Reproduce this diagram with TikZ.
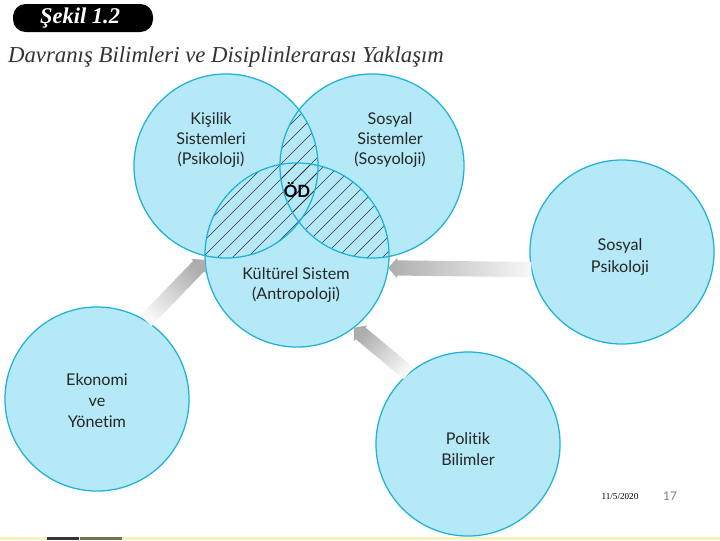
\documentclass[tikz,border=0pt]{standalone}
\usepackage{fontspec}
\setmainfont{Lato}[Ligatures={NoCommon,NoRare,NoDiscretionary}]
\newfontfamily\serifti{Liberation Serif}
\usetikzlibrary{calc}

\begin{document}
\begin{tikzpicture}[x=0.025cm, y=-0.025cm,
    disc/.style={circle, fill=disc_fill, minimum size=4.6cm, inner sep=0pt},
    rim/.style={draw=disc_edge, line width=0.9pt},
    hatch/.style={draw=black!80, line width=0.35pt},
    circtext/.style={align=center, text=black!85, font=\fontsize{11.5}{14.2}\selectfont}]
    \definecolor{disc_fill}{HTML}{B5E9F8}
    \definecolor{disc_edge}{HTML}{1FB2D9}
    \definecolor{foot_yellow}{HTML}{F4F2BE}
    \definecolor{foot_olive}{HTML}{6E7452}
    %\draw[help lines] (0,0) grid[step=20] (720,540);
    \useasboundingbox (0,0) rectangle (720,540);
    \path[fill=white] (0,0) rectangle (720,540);

    % title
    \path[fill=black, rounded corners=9] (13,4) rectangle (153,32);
    \node[text=white, font=\serifti\bfseries\itshape\fontsize{16}{18}\selectfont] (sekil) at (80,18) {Şekil 1.2};
    \node[text=black!80, font=\serifti\itshape\fontsize{16.2}{19}\selectfont] (baslik) at (226,57) {Davranış Bilimleri ve Disiplinlerarası Yaklaşım};

    % circles
    \node[disc] (kisilik) at (226,166) {};
    \node[disc] (sossis) at (372,166) {};
    \node[disc] (kultur) at (297,255) {};
    \node[disc] (sospsik) at (622,252) {};
    \node[disc] (eko) at (97,399) {};
    \node[disc] (pol) at (468,444) {};

    % hatched overlaps
    \foreach \a/\b in {kisilik/sossis, kisilik/kultur, sossis/kultur}{
        \begin{scope}
            \clip (\a.center) circle (2.3cm);
            \clip (\b.center) circle (2.3cm);
            \foreach \c in {340,355,...,670}
                \draw[hatch] (\c-60,60) -- (\c-300,300);
        \end{scope}
    }
    \foreach \n in {kisilik,sossis,kultur,sospsik,eko,pol}
        \draw[rim] (\n.center) circle (2.3cm);

    % shaded arrows
    \foreach \tail/\tip/\ang in {eko.58/kultur.183/136.5, sospsik.191/kultur.-8/270, pol.130/kultur.-52/229.6}{
        \coordinate (t) at (\tip);
        \coordinate (s) at (\tail);
        \coordinate (h) at ($(t)!0.22cm!(s)$);
        \shade[left color=black!3, right color=black!32, shading angle=\ang]
            (t) -- ($(h)!0.26cm!90:(t)$) -- ($(h)!0.19cm!90:(t)$) -- ($(s)!0.19cm!90:(t)$)
            -- ($(s)!0.19cm!-90:(t)$) -- ($(h)!0.19cm!-90:(t)$) -- ($(h)!0.26cm!-90:(t)$) -- cycle;
    }

    % texts
    \node[circtext] (kisilik_txt) at (211,140) {Kişilik\\Sistemleri\\(Psikoloji)};
    \node[circtext] (sossis_txt) at (390,140) {Sosyal\\Sistemler\\(Sosyoloji)};
    \node[circtext, font=\bfseries\fontsize{12}{14}\selectfont, text=black] (od) at (297,190) {ÖD};
    \node[circtext] (kultur_txt) at (296,285) {Kültürel Sistem\\(Antropoloji)};
    \node[circtext, font=\fontsize{11.5}{15}\selectfont] (sospsik_txt) at (620,257) {Sosyal\\Psikoloji};
    \node[circtext, font=\fontsize{11.5}{15}\selectfont] (eko_txt) at (97,401) {Ekonomi\\ve\\Yönetim};
    \node[circtext, font=\fontsize{11.5}{15.5}\selectfont] (pol_txt) at (468,449) {Politik\\Bilimler};

    % footer
    \node[font=\serifti\fontsize{6.5}{7}\selectfont] (tarih) at (620,496) {11/5/2020};
    \node[text=black!50, font=\fontsize{8.5}{9}\selectfont] (sayfa) at (670,496) {17};
    \path[fill=foot_yellow] (0,537) rectangle (720,540);
    \path[fill=black!80] (47,537) rectangle (79,540);
    \path[fill=foot_olive] (80,537) rectangle (122,540);
\end{tikzpicture}
\end{document}
